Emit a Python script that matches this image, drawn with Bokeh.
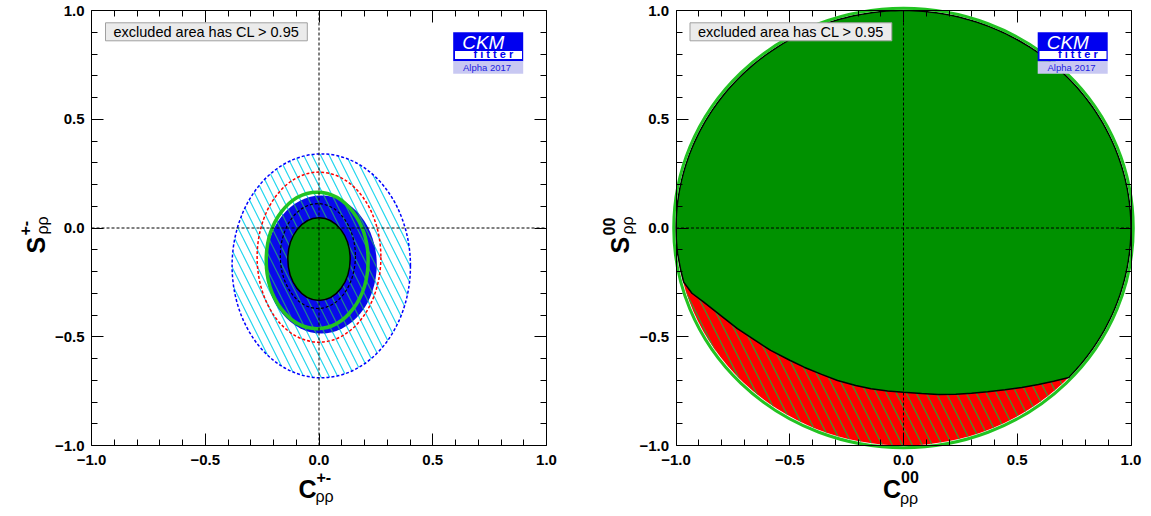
import numpy as np
from bokeh.plotting import figure
from bokeh.layouts import row
from bokeh.models import (Range1d, LinearAxis, FixedTicker, CustomJSTickFormatter,
                          Label, BoxAnnotation)
from bokeh.embed import file_html
from bokeh.resources import INLINE

# ---------------- data ----------------
major_ticks = [-1.0, -0.5, 0.0, 0.5, 1.0]
minor_ticks = [-0.9, -0.8, -0.7, -0.6, -0.4, -0.3, -0.2, -0.1,
               0.1, 0.2, 0.3, 0.4, 0.6, 0.7, 0.8, 0.9]

# left panel (C+-, S+-): contour ellipses: centre, full width, full height
lp_cx = [0.01, 0.0, 0.01, -0.005, -0.008, 0.0]
lp_cy = [-0.174, -0.134, -0.168, -0.129, -0.149, -0.143]
lp_w = [0.784, 0.544, 0.488, 0.330, 0.448, 0.274]
lp_h = [1.030, 0.782, 0.634, 0.482, 0.628, 0.380]

# right panel (C00, S00): lower boundary of the allowed (green) region
rp_curve_x = [-0.993, -0.980, -0.966, -0.930, -0.878, -0.800, -0.730, -0.650, -0.584,
              -0.500, -0.437, -0.360, -0.290, -0.210, -0.143, -0.070, 0.000, 0.080,
              0.152, 0.230, 0.299, 0.370, 0.446, 0.520, 0.593, 0.660, 0.732]
rp_curve_y = [-0.118, -0.190, -0.249, -0.300, -0.341, -0.405, -0.463, -0.518, -0.563,
              -0.608, -0.640, -0.673, -0.701, -0.724, -0.739, -0.749, -0.755, -0.761,
              -0.766, -0.764, -0.760, -0.753, -0.744, -0.733, -0.720, -0.705, -0.686]
# physical boundary C^2 + S^2 <= 1 (unit disk)
disk_r = 1.0

BLUE = "#0a0aeb"
GREEN = "#009100"
LGREEN = "#22c322"
RED = "#ff0000"
CYAN = "#22d6ee"
FONT = "Liberation Sans"

# ---------------- layout (pixels) ----------------
FW, FH = 455.0, 435.0          # visible frame size
SX, SY = FW / 2.0, FH / 2.0    # px per data unit
FIG_H = 514
TOP = 10                       # frame top inside figure
MID = 0.3465                   # middle of text box above the baseline (em)

fmt = CustomJSTickFormatter(code="return (tick < -1e-9 ? '\u2212' : '') + Math.abs(tick).toFixed(1);")
blank = CustomJSTickFormatter(code="return '';")


def dx(px):
    return px / SX


def dy(px):
    return px / SY


def add_axis(p, side, fixed, labels):
    ax = LinearAxis(fixed_location=fixed, bounds=(-1, 1))
    ax.ticker = FixedTicker(ticks=major_ticks, minor_ticks=minor_ticks)
    ax.major_tick_in = 12
    ax.major_tick_out = 0
    ax.minor_tick_in = 6
    ax.minor_tick_out = 0
    ax.axis_line_color = "black"
    ax.axis_line_width = 1
    ax.major_tick_line_color = "black"
    ax.minor_tick_line_color = "black"
    ax.axis_label = None
    if labels:
        ax.formatter = fmt
        ax.major_label_text_font = FONT
        ax.major_label_text_font_style = "bold"
        ax.major_label_text_font_size = "15px"
        ax.major_label_text_color = "black"
        ax.major_label_standoff = 9 if side == "below" else 7
    else:
        ax.formatter = blank
        ax.major_label_standoff = 0
    p.add_layout(ax, side)


def make_fig(width, left):
    xr = Range1d(-1 - dx(left), -1 + dx(width - left))
    yr = Range1d(1 - dy(FIG_H - TOP), 1 + dy(TOP))
    p = figure(width=width, height=FIG_H, x_range=xr, y_range=yr,
               output_backend="svg", toolbar_location=None,
               x_axis_location=None, y_axis_location=None, min_border=0)
    p.xgrid.visible = False
    p.ygrid.visible = False
    p.outline_line_color = None
    p.background_fill_color = "white"
    p.border_fill_color = "white"
    add_axis(p, "below", -1, True)
    add_axis(p, "left", -1, True)
    add_axis(p, "above", 1, False)
    add_axis(p, "right", 1, False)
    return p


def txt(p, xpx, ypx, text, size, style="normal", color="black", rotated=False):
    """Place text with its baseline start at (xpx, ypx) px from the frame's top-left."""
    if rotated:
        x = -1 + dx(xpx - MID * size)
        y = 1 - dy(ypx)
        ang = np.pi / 2
    else:
        x = -1 + dx(xpx)
        y = 1 - dy(ypx - MID * size)
        ang = 0
    p.add_layout(Label(x=x, y=y, text=text, text_font=FONT, text_font_style=style,
                       text_font_size=f"{size}px", text_color=color,
                       text_baseline="middle", text_align="left", angle=ang))


def decorate(p):
    # cross-hair through the origin
    p.segment(x0=[0, -1], y0=[-1, 0], x1=[0, 1], y1=[1, 0], line_color="black",
              line_dash="3 2", line_width=1)
    # legend box
    p.add_layout(Label(x=-1 + dx(14), y=1 - dy(21.3), text="excluded area has CL > 0.95",
                       text_font=FONT, text_font_size="14.5px", text_color="black",
                       text_baseline="middle", text_align="left",
                       background_fill_color="#ebebeb", border_line_color="#a0a0a0",
                       border_line_width=1, padding=(8, 1)))
    # CKMfitter logo
    L0, R0 = -1 + dx(361.7), -1 + dx(431.7)
    p.add_layout(BoxAnnotation(left=L0, right=R0, top=1 - dy(21.7), bottom=1 - dy(50.7),
                               fill_color="#0000f0", fill_alpha=1, line_color=None))
    p.add_layout(BoxAnnotation(left=L0 + dx(1.8), right=R0 - dx(1.2), top=1 - dy(40.5),
                               bottom=1 - dy(48.5),
                               fill_color="white", fill_alpha=1, line_color=None))
    p.add_layout(BoxAnnotation(left=L0, right=R0, top=1 - dy(50.7), bottom=1 - dy(63.3),
                               fill_color="#c8c8f2", fill_alpha=1, line_color=None))
    txt(p, 370.7, 38.3, "CKM", 19, "italic", "white")
    txt(p, 382.0, 47.8, "f i t t e r", 11, "bold", "#0000f0")
    txt(p, 371.5, 60.5, "Alpha 2017", 9.5, "normal", "#2020e0")


def axis_titles(p, sup, sub_base):
    # x title
    txt(p, 207, 486.7, "C", 25, "bold")
    txt(p, 225, 471.7, sup, 16, "bold")
    txt(p, 224, sub_base, "\u03c1\u03c1", 16)
    # y title (rotated, reads upwards)
    txt(p, -47, 243, "S", 25, "bold", rotated=True)
    txt(p, -61, 225, sup, 16, "bold", rotated=True)
    txt(p, -43, 224, "\u03c1\u03c1", 16, rotated=True)


# ---------------- left panel ----------------
p1 = make_fig(584, 91)
p1.ellipse(x=lp_cx[0], y=lp_cy[0], width=lp_w[0], height=lp_h[0], fill_color=None,
           hatch_pattern="\\", hatch_color=CYAN, hatch_scale=17, hatch_weight=1.2,
           line_color=None)
p1.ellipse(x=lp_cx[1], y=lp_cy[1], width=lp_w[1], height=lp_h[1], fill_color=None,
           line_color=RED, line_dash="3 2", line_width=1.5)
p1.ellipse(x=lp_cx[2], y=lp_cy[2], width=lp_w[2], height=lp_h[2], fill_color=BLUE,
           line_color=None)
p1.ellipse(x=lp_cx[2], y=lp_cy[2], width=lp_w[2], height=lp_h[2], fill_color=None,
           hatch_pattern="\\", hatch_color="#1f8a8a", hatch_scale=17, hatch_weight=1.2,
           line_color=None)
p1.ellipse(x=lp_cx[0], y=lp_cy[0], width=lp_w[0], height=lp_h[0], fill_color=None,
           line_color="#0000ff", line_dash="3 2", line_width=1.5)
p1.ellipse(x=lp_cx[3], y=lp_cy[3], width=lp_w[3], height=lp_h[3], fill_color=None,
           line_color="black", line_dash="3 2", line_width=1.2)
p1.ellipse(x=lp_cx[4], y=lp_cy[4], width=lp_w[4], height=lp_h[4], fill_color=None,
           line_color=LGREEN, line_width=3.5)
p1.ellipse(x=lp_cx[5], y=lp_cy[5], width=lp_w[5], height=lp_h[5], fill_color=GREEN,
           line_color="black", line_width=1.5)
decorate(p1)
axis_titles(p1, "+-", 491.6)

# ---------------- right panel ----------------
p2 = make_fig(560, 91.5)
p2.ellipse(x=0, y=0, width=2 * disk_r, height=2 * disk_r, fill_color=RED, line_color=None,
           hatch_pattern="\\", hatch_color="#2e9e2e", hatch_scale=20, hatch_weight=1.2)
a0 = np.arctan2(rp_curve_y[-1], rp_curve_x[-1])
a1 = np.arctan2(rp_curve_y[0], rp_curve_x[0]) + 2 * np.pi
ang = np.linspace(a0, a1, 200)
gx = list(rp_curve_x) + list(disk_r * np.cos(ang))
gy = list(rp_curve_y) + list(disk_r * np.sin(ang))
p2.patch(gx, gy, fill_color=GREEN, line_color="black", line_width=1.5)
p2.ellipse(x=0, y=0, width=2 * disk_r + 0.02, height=2 * disk_r + 0.02, fill_color=None,
           line_color=LGREEN, line_width=3)
decorate(p2)
axis_titles(p2, "00", 494)

layout = row(p1, p2)
open("out.html", "w").write(file_html(layout, INLINE))
